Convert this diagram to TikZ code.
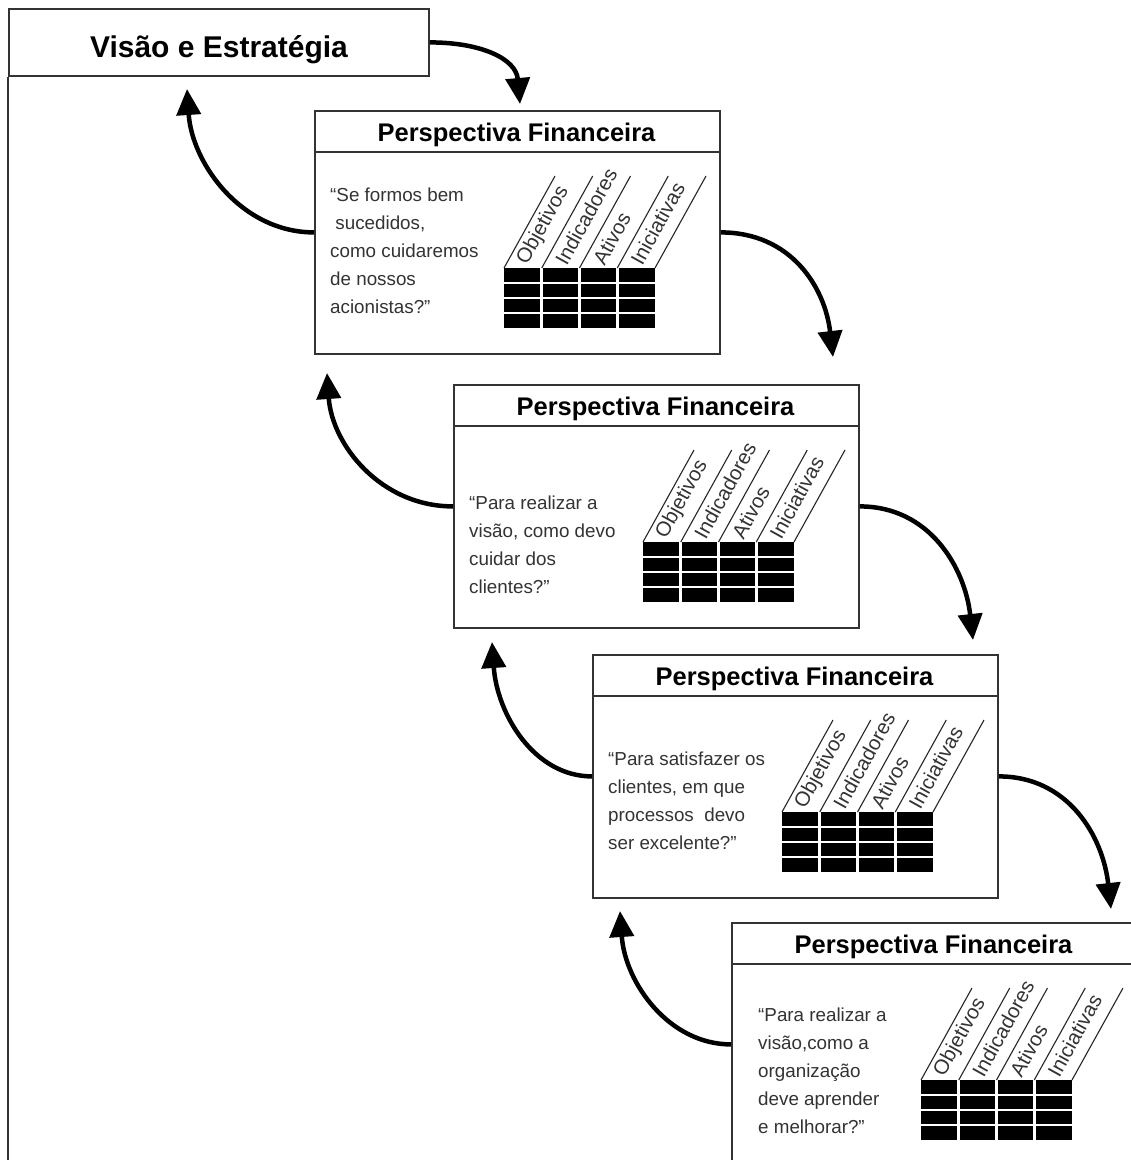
\documentclass[tikz,border=0pt]{standalone}
\usepackage{fontspec}
\setmainfont{Liberation Sans}
\usetikzlibrary{arrows.meta}
\newcommand{\perspbox}[3]{%
  \node[boxnode] (#1) at (#2,#3) {};
  \draw[frame] ({#2},{#3+42}) -- ({#2+405},{#3+42});
  \node[head] (#1h) at ({#2+202.5},{#3+31}) {Perspectiva Financeira};
  \fill[black] ({#2+190},{#3+158}) rectangle ({#2+341},{#3+218});
  \foreach \k in {1,2,3} {
    \draw[gapline] ({#2+190+37.75*\k},{#3+158}) -- ({#2+190+37.75*\k},{#3+218});
    \draw[gapline] ({#2+190},{#3+158+15*\k}) -- ({#2+341},{#3+158+15*\k});
  }
  \foreach \k in {0,...,4} \draw[slant] ({#2+190+37.75*\k},{#3+158}) -- ++(51,-92);
  \foreach \w [count=\k from 0] in {Objetivos,Indicadores,Ativos,Iniciativas}
    \node[col] (#1c\k) at ({#2+190+37.75*\k+18.5},{#3+153}) {\w};
}
\begin{document}
\begin{tikzpicture}[x=1pt,y=-1pt,
  frame/.style={draw=black!80, line width=1.8pt},
  boxnode/.style={frame, rectangle, minimum width=405pt, minimum height=243pt, anchor=north west, inner sep=0pt, fill=white},
  head/.style={font=\fontsize{25.5}{30}\selectfont\bfseries, anchor=base, inner sep=0pt},
  qt/.style={font=\fontsize{18.8}{22}\selectfont, text=black!80, anchor=base west, inner sep=0pt},
  col/.style={font=\fontsize{20.5}{24}\selectfont, text=black!80, rotate=61, anchor=west, inner sep=0pt},
  gapline/.style={white, line width=2.6pt},
  slant/.style={black!85, line width=1.1pt},
  arr/.style={line width=4.5pt, -{Triangle[length=26pt,width=24pt]}},
]
\fill[white] (0,0) rectangle (1131,1160);
\useasboundingbox (0,0) rectangle (1131,1160);

% top box
\node[frame, rectangle, minimum width=420pt, minimum height=67pt, anchor=north west, inner sep=0pt] (v) at (8,8) {};
\node[font=\fontsize{30}{36}\selectfont\bfseries, anchor=base, inner sep=0pt] (vt) at (219,57) {Visão e Estratégia};
\coordinate (fe) at (8,1162);
\draw[frame] (v.south west) -- (fe);

% perspective boxes
\perspbox{b1}{314}{110}
\perspbox{b2}{453}{384}
\perspbox{b3}{592}{654}
\perspbox{b4}{731}{922}

% quotes
\foreach \t [count=\k from 0] in {{“Se formos bem},{\ sucedidos,},{como cuidaremos},{de nossos},{acionistas?”}}
  \node[qt] (q1l\k) at ({330},{201+28.2*\k}) {\t};
\foreach \t [count=\k from 0] in {{“Para realizar a},{visão, como devo},{cuidar dos},{clientes?”}}
  \node[qt] (q2l\k) at ({469},{509+28*\k}) {\t};
\foreach \t [count=\k from 0] in {{“Para satisfazer os},{clientes, em que},{processos\ \ devo},{ser excelente?”}}
  \node[qt] (q3l\k) at ({608},{765+28*\k}) {\t};
\foreach \t [count=\k from 0] in {{“Para realizar a},{visão,como a},{organização},{deve aprender},{e melhorar?”}}
  \node[qt] (q4l\k) at ({758},{1021+28*\k}) {\t};

% arrow tips
\coordinate (t0) at (520,104);
\coordinate (l1) at (187,89);
\coordinate (r1) at (833,357);
\coordinate (l2) at (327,373);
\coordinate (r2) at (973,640);
\coordinate (l3) at (492,642);
\coordinate (r3) at (1111,909);
\coordinate (l4) at (620,911);

\draw[arr] (v.east) .. controls +(52,0) and +(-4,-45) .. (t0);
\draw[arr] (b1.west) .. controls +(-72,0) and +(5,75) .. (l1);
\draw[arr] (b1.east) .. controls +(70,0) and +(-8,-70) .. (r1);
\draw[arr] (b2.west) .. controls +(-72,0) and +(5,72) .. (l2);
\draw[arr] (b2.east) .. controls +(70,0) and +(-8,-72) .. (r2);
\draw[arr] (b3.west) .. controls +(-58,0) and +(5,72) .. (l3);
\draw[arr] (b3.east) .. controls +(70,0) and +(-8,-72) .. (r3);
\draw[arr] (b4.west) .. controls +(-62,0) and +(5,72) .. (l4);
\end{tikzpicture}
\end{document}
